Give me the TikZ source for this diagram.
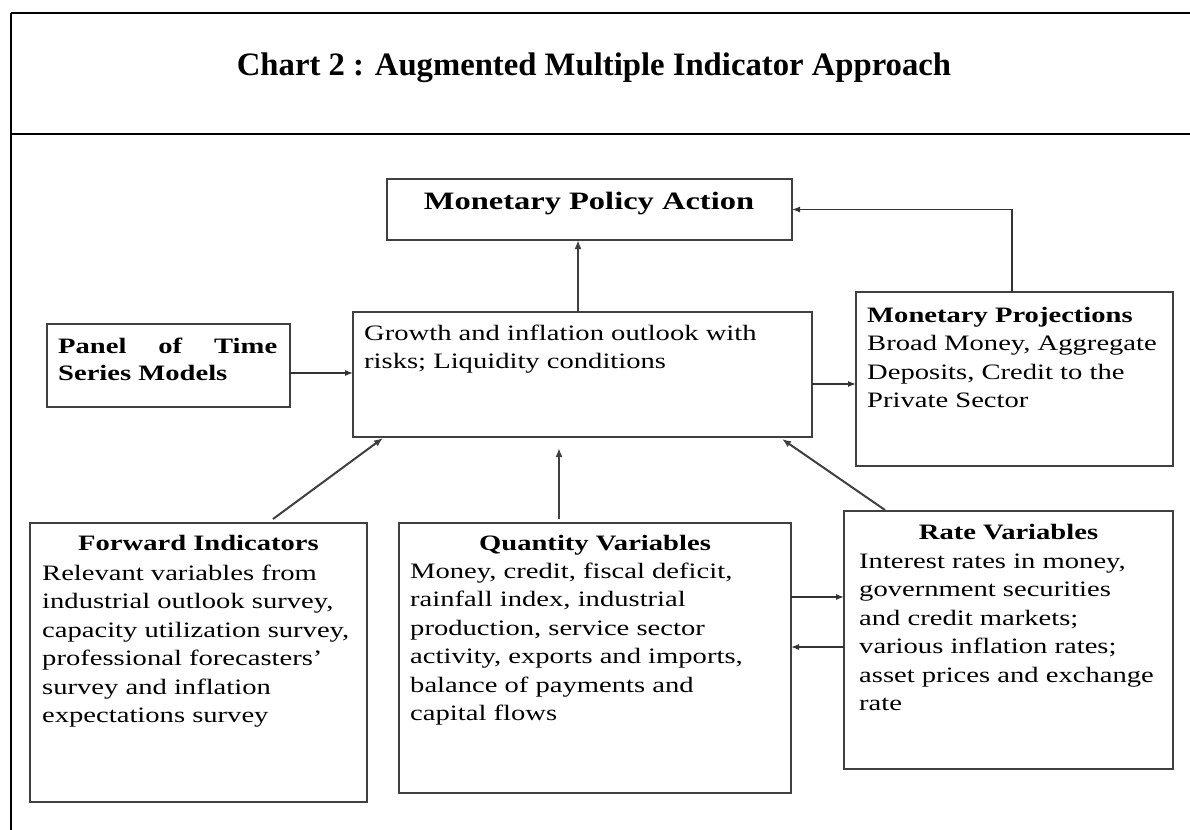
\documentclass[tikz,border=0pt]{standalone}
\usepackage{fontspec}
\setmainfont{Liberation Serif}
\newfontfamily\bodyf[FakeStretch=1.3]{Liberation Serif}
\usetikzlibrary{arrows.meta,calc}
\tikzset{
  box/.style={draw=black!75, line width=1.3pt, inner sep=0pt, outer sep=0pt, anchor=north west, fill=none},
  body/.style={font=\bodyf\fontsize{22}{28.5}\selectfont, align=left, inner sep=0pt, anchor=base west},
  head/.style={font=\bodyf\bfseries\fontsize{22}{28.5}\selectfont, inner sep=0pt, anchor=base},
  arr/.style={draw=black!80, line width=1.3pt, -{Latex[length=8pt,width=6pt]}},
  arrb/.style={draw=black!75, line width=2pt, -{Latex[length=9pt,width=7pt]}},
  frame/.style={draw=black, line width=2.6pt}
}
\begin{document}
\begin{tikzpicture}[x=1pt,y=-1pt]
\useasboundingbox (0,0) rectangle (1190,829);
% outer frame
\draw[frame] (11,13) -- (1192,13);
\draw[frame] (11,134) -- (1192,134);
\draw[frame] (11,13) -- (11,831);
\node[font=\bfseries\fontsize{32.7}{38}\selectfont, inner sep=0pt, anchor=base] (title) at (594,76) {Chart 2 : Augmented Multiple Indicator Approach};

% boxes
\node[box, minimum width=405pt, minimum height=61pt] (mpa) at (387,179) {};
\node[box, minimum width=459pt, minimum height=125pt] (growth) at (353,312) {};
\node[box, minimum width=243pt, minimum height=83pt] (panel) at (47,324) {};
\node[box, minimum width=317pt, minimum height=174pt] (monproj) at (856,292) {};
\node[box, minimum width=337pt, minimum height=279pt] (forward) at (30,523) {};
\node[box, minimum width=392pt, minimum height=270pt] (quantity) at (399,523) {};
\node[box, minimum width=329pt, minimum height=258pt] (rate) at (844,511) {};

% texts (base anchor = baseline of the last line)
\node[head, font=\bodyf\bfseries\fontsize{25}{30}\selectfont] (mpat) at (589,209) {Monetary Policy Action};
\node[body] (growtht) at (364,368.5) {Growth and inflation outlook with\\risks; Liquidity conditions};
\node[body, font=\bodyf\bfseries\fontsize{22}{27}\selectfont] (panelt) at (58,380) {\hbox to 219pt{Panel\hfill of\hfill Time}\\Series Models};
\node[body] (monprojt) at (867,407.5) {\textbf{Monetary Projections}\\Broad Money, Aggregate\\Deposits, Credit to the\\Private Sector};
\node[head] (forwardh) at (198.5,550) {Forward Indicators};
\node[body] (forwardt) at (42,722.5) {Relevant variables from\\industrial outlook survey,\\capacity utilization survey,\\professional forecasters’\\survey and inflation\\expectations survey};
\node[head] (quantityh) at (595,550) {Quantity Variables};
\node[body] (quantityt) at (410,720.5) {Money, credit, fiscal deficit,\\rainfall index, industrial\\production, service sector\\activity, exports and imports,\\balance of payments and\\capital flows};
\node[head] (rateh) at (1008.5,539) {Rate Variables};
\node[body] (ratet) at (859,710.5) {Interest rates in money,\\government securities\\and credit markets;\\various inflation rates;\\asset prices and exchange\\rate};

% connectors
\draw[arrb] ($(growth.north west)+(225,0)$) -- ($(mpa.south west)+(191,0)$);
\draw[arr] ($(monproj.north west)+(156,0)$) |- (mpa.east);
\draw[arr] ($(panel.east)+(0,7.5)$) -- ($(panel.east -| growth.west)+(0,7.5)$);
\draw[arr] ($(growth.east)+(0,9.5)$) -- ($(growth.east -| monproj.west)+(0,9.5)$);
\draw[arrb] ($(forward.north west)+(243,-4)$) -- ($(growth.south west)+(30,1)$);
\draw[arrb] ($(quantity.north west)+(160,-4)$) -- ($(growth.south west)+(206,11)$);
\draw[arrb] ($(rate.north west)+(41,-1)$) -- ($(growth.south east)+(-30,2)$);
\draw[arr] ($(quantity.north east)+(0,74)$) -- ($(rate.north west)+(0,86)$);
\draw[arr] ($(rate.north west)+(0,136)$) -- ($(quantity.north east)+(0,124)$);
\end{tikzpicture}
\end{document}
